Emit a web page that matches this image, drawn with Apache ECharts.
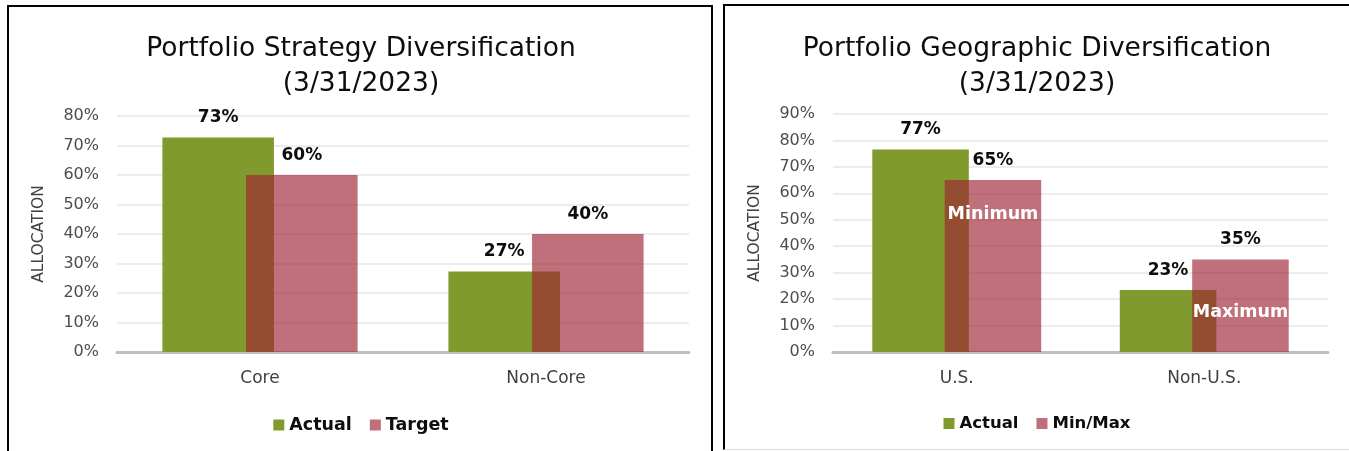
<!DOCTYPE html>
<html>
<head>
<meta charset="utf-8">
<script src="https://cdn.jsdelivr.net/npm/echarts@6/dist/echarts.min.js"></script>
<style>
  html, body { margin: 0; padding: 0; background: #fff; overflow: hidden; }
  body { width: 1349px; height: 451px; position: relative; }
  .chart { position: absolute; top: 0; height: 451px; }
  .frame { position: absolute; border: 2px solid #000; pointer-events: none; box-sizing: border-box; }
</style>
</head>
<body>
<div id="strategy" class="chart" style="left:0;width:722px;"></div>
<div id="geo" class="chart" style="left:718px;width:638px;"></div>
<div class="frame" style="left:7px;top:5px;width:706px;height:460px;"></div>
<div class="frame" style="left:723px;top:4px;width:640px;height:446px;border-bottom:1px solid #ddd;"></div>
<script>
// strategy chart data
var stratCats = ['Core', 'Non-Core'];
var stratActual = [72.7, 27.3];
var stratTarget = [60, 40];
var stratTicks = { min: 0, max: 80, interval: 10 };

// geographic chart data
var geoCats = ['U.S.', 'Non-U.S.'];
var geoActual = [76.6, 23.4];
var geoMinMax = [65, 35];
var geoTicks = { min: 0, max: 90, interval: 10 };
var geoNotes = ['Minimum', 'Maximum'];
var geoNoteLevels = [52.2, 15.0];

var GREEN = '#819a2e';
var PINK = 'rgba(158,35,51,0.65)';
var FONT = 'DejaVu Sans';

function pct(p) { return Math.round(p.value) + '%'; }

function build(o) {
    var pinkSeries = {
        name: o.names[1],
        type: 'bar',
        barWidth: '39%',
        data: o.second,
        itemStyle: { color: PINK },
        label: { show: true, position: 'top', distance: 11, formatter: pct,
                 color: '#0d0d0d', fontSize: 17, fontWeight: 'bold', fontFamily: FONT }
    };
    if (o.notes) {
        var pts = [];
        for (var i = 0; i < o.notes.length; i++) {
            pts.push({ coord: [i, o.noteLevels[i]], value: o.notes[i] });
        }
        pinkSeries.markPoint = {
            symbol: 'rect', symbolSize: 1, silent: true,
            itemStyle: { color: 'rgba(0,0,0,0)' },
            label: { show: true, position: 'inside', formatter: '{c}', color: '#fff',
                     fontSize: 17.5, fontWeight: 'bold', fontFamily: FONT },
            data: pts
        };
    }
    return {
        animation: false,
        title: {
            text: o.title,
            left: 'center', top: 27,
            textStyle: { fontFamily: FONT, fontSize: 26.5, fontWeight: 'normal', color: '#0d0d0d', lineHeight: 35 }
        },
        legend: {
            data: o.names,
            left: 'center', top: o.legendTop,
            itemWidth: 11, itemHeight: 11, itemGap: 18, icon: 'rect',
            textStyle: { fontFamily: FONT, fontSize: o.legendSize, fontWeight: 'bold', color: '#0d0d0d' }
        },
        grid: { left: o.gridLeft, right: o.gridRight, top: o.gridTop, bottom: 99 },
        xAxis: {
            type: 'category',
            data: o.cats,
            axisLine: { lineStyle: { color: '#bfbfbf', width: 3 } },
            axisTick: { show: false },
            axisLabel: { color: '#404040', fontSize: 17, fontFamily: FONT, margin: 18 }
        },
        yAxis: {
            type: 'value',
            min: o.ticks.min, max: o.ticks.max, interval: o.ticks.interval,
            name: 'ALLOCATION', nameLocation: 'middle', nameGap: 70,
            nameTextStyle: { color: '#404040', fontSize: 15.5, fontFamily: FONT },
            axisLine: { show: false },
            axisTick: { show: false },
            splitLine: { lineStyle: { color: '#ececec', width: 2 } },
            axisLabel: { formatter: '{value}%', color: '#4d4d4d', fontSize: 16, fontFamily: FONT, margin: 18 }
        },
        series: [
            {
                name: o.names[0],
                type: 'bar',
                barWidth: '39%',
                barGap: '-25%',
                data: o.first,
                itemStyle: { color: GREEN },
                label: { show: true, position: 'top', distance: 11, formatter: pct,
                         color: '#0d0d0d', fontSize: 17, fontWeight: 'bold', fontFamily: FONT }
            },
            pinkSeries
        ]
    };
}

var c1 = echarts.init(document.getElementById('strategy'));
c1.setOption(build({
    title: 'Portfolio Strategy Diversification\n(3/31/2023)',
    cats: stratCats, first: stratActual, second: stratTarget, ticks: stratTicks,
    names: ['Actual', 'Target'], legendSize: 17.5, legendTop: 411,
    gridLeft: 117, gridRight: 33, gridTop: 116
}));

var c2 = echarts.init(document.getElementById('geo'));
c2.setOption(build({
    title: 'Portfolio Geographic Diversification\n(3/31/2023)',
    cats: geoCats, first: geoActual, second: geoMinMax, ticks: geoTicks,
    notes: geoNotes, noteLevels: geoNoteLevels,
    names: ['Actual', 'Min/Max'], legendSize: 16.5, legendTop: 410,
    gridLeft: 115, gridRight: 28, gridTop: 114
}));
</script>
</body>
</html>
